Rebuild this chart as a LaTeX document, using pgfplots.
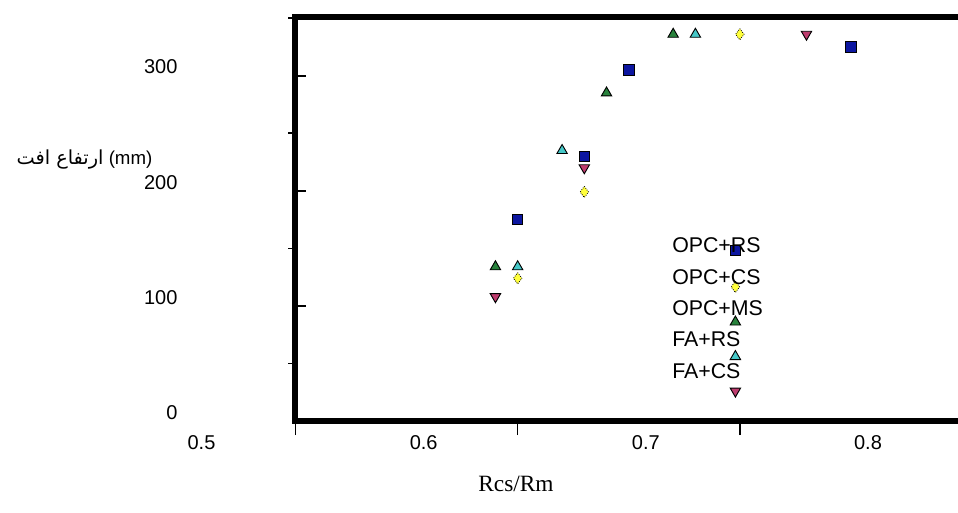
\documentclass[border=0pt]{standalone}
\usepackage{pgfplots}
\pgfplotsset{compat=1.18}
\usepackage{fontspec}
\setmainfont{Liberation Sans}
\newfontfamily\seriffont{Liberation Serif}
\newfontfamily\arabicfont[Script=Arabic]{DejaVu Sans}
\TeXXeTstate=1
\definecolor{cblue}{RGB}{12,22,160}
\definecolor{cyellow}{RGB}{255,255,60}
\definecolor{cgreen}{RGB}{40,130,60}
\definecolor{ccyan}{RGB}{70,200,200}
\definecolor{cpink}{RGB}{190,60,110}
\begin{document}
\begin{tikzpicture}
\begin{axis}[
  at={(221.625pt,68.25pt)}, anchor=south west,
  scale only axis, width=499.875pt, height=303pt,
  xmin=0.5, xmax=0.8, ymin=0, ymax=351,
  axis line style={line width=4.5pt},
  xtick=\empty,
  extra x ticks={0.5,0.6,0.7,0.8},
  extra x tick labels={0.5\hspace{7.5pt},0.6,0.7,0.8},
  extra x tick style={tick align=outside, major tick length=10.5pt},
  ytick={0,100,200,300},
  yticklabels={0\hspace{-14pt},100,200,300},
  extra y ticks={50,150,250,350},
  extra y tick labels={},
  extra y tick style={tick align=outside, major tick length=5.6pt},
  tick align=inside, major tick length=7.9pt,
  xtick pos=left, ytick pos=left,
  tick style={line width=1.2pt, black},
  /pgf/number format/assume math mode=true,
  ticklabel style={font=\fontsize{15}{18}\selectfont},
  xticklabel style={xshift=-70.5pt, yshift=3.5pt},
  yticklabel style={anchor=east, xshift=-85pt, yshift=6.5pt},
  xlabel={\seriffont Rcs/Rm},
  xlabel style={at={(axis description cs:0.3308,-0.155)}, anchor=center, font=\fontsize{17.5}{20}\selectfont},
  ylabel={{\arabicfont\fontsize{14.5}{18}\selectfont\beginR ارتفاع افت\endR}\ (mm)},
  ylabel style={rotate=-90, at={(axis description cs:-0.2078,0.648)}, anchor=east, font=\fontsize{14}{17}\selectfont},
  legend style={at={(axis description cs:0.5649,0.4554)}, anchor=north west, draw=none, fill=none, inner sep=0pt, row sep=11.9pt, font=\fontsize{16}{19}\selectfont, nodes={inner sep=0pt, text height=11.6pt, text depth=0pt, anchor=west}},
  legend image code/.code={},
  legend cell align=left,
  clip=false,
]
\addplot[only marks, mark=square*, mark size=3.9pt, mark options={fill=cblue, draw=black, line width=0.6pt}] coordinates {(0.60,175) (0.63,230) (0.65,305) (0.75,325)};
\addlegendentry{OPC+RS}
\addplot[only marks, mark=diamond*, mark size=4.2pt, mark options={fill=cyellow, draw=black, line width=0.6pt, densely dotted}] coordinates {(0.60,124) (0.63,199) (0.70,336)};
\addlegendentry{OPC+CS}
\addplot[only marks, mark=triangle*, mark size=4.5pt, mark options={fill=cgreen, draw=black, line width=0.7pt}] coordinates {(0.59,134) (0.64,285) (0.67,336)};
\addlegendentry{OPC+MS}
\addplot[only marks, mark=triangle*, mark size=4.5pt, mark options={fill=ccyan, draw=black, line width=0.7pt}] coordinates {(0.60,134) (0.62,235) (0.68,336)};
\addlegendentry{FA+RS}
\addplot[only marks, mark=triangle*, mark size=4.5pt, mark options={fill=cpink, draw=black, line width=0.7pt, rotate=180}] coordinates {(0.59,108) (0.63,220) (0.73,336)};
\addlegendentry{FA+CS}
% legend symbols, drawn where the reference shows them
\addplot[forget plot, only marks, mark=square*, mark size=3.9pt, mark options={fill=cblue, draw=black, line width=0.6pt}] coordinates {(0.698,148)};
\addplot[forget plot, only marks, mark=diamond*, mark size=4.2pt, mark options={fill=cyellow, draw=black, line width=0.6pt, densely dotted}] coordinates {(0.698,116.5)};
\addplot[forget plot, only marks, mark=triangle*, mark size=4.5pt, mark options={fill=cgreen, draw=black, line width=0.7pt}] coordinates {(0.698,86)};
\addplot[forget plot, only marks, mark=triangle*, mark size=4.5pt, mark options={fill=ccyan, draw=black, line width=0.7pt}] coordinates {(0.698,56)};
\addplot[forget plot, only marks, mark=triangle*, mark size=4.5pt, mark options={fill=cpink, draw=black, line width=0.7pt, rotate=180}] coordinates {(0.698,26)};
\end{axis}
\pgfresetboundingbox
\path[use as bounding box] (0,0) rectangle (718.5pt,384pt);
\end{tikzpicture}
\end{document}
